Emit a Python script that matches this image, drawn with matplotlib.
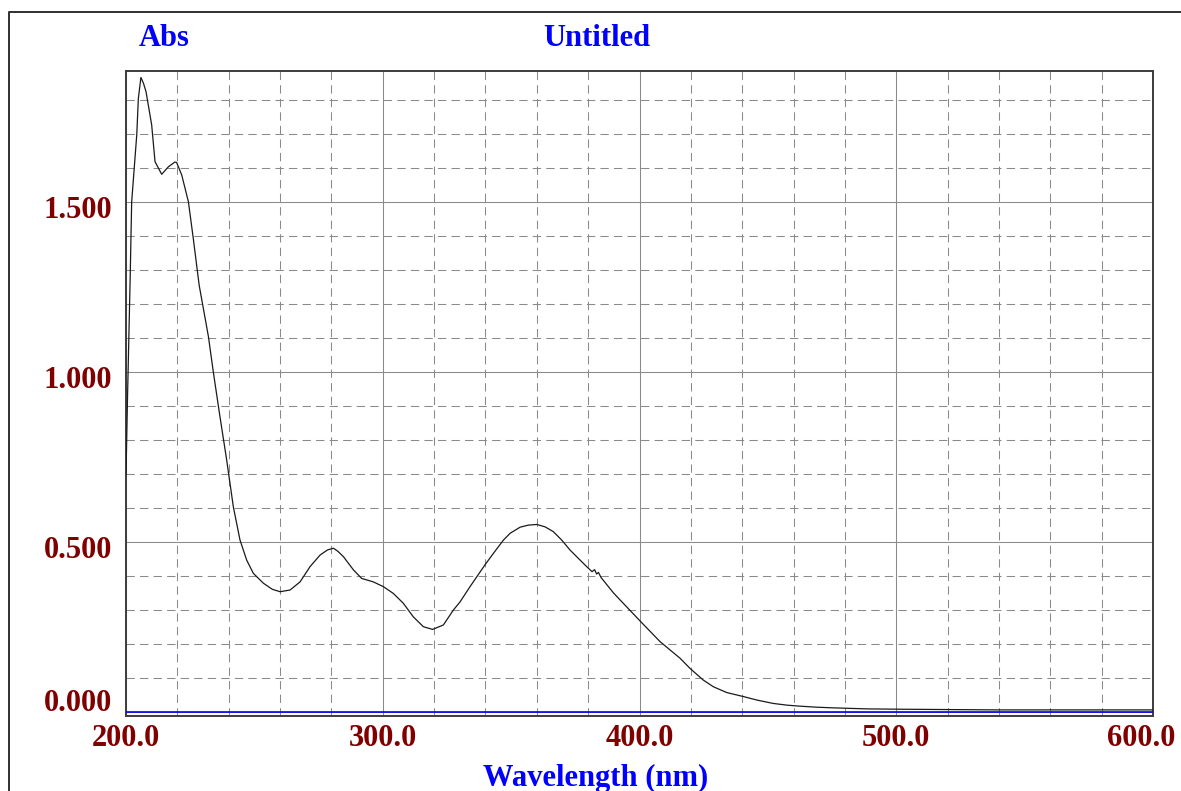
"""
UV-Vis absorbance spectrum, 200-600 nm.
"""

import matplotlib

matplotlib.use("Agg")

import matplotlib.pyplot as plt
import matplotlib.transforms as mtransforms
from matplotlib.lines import Line2D
from matplotlib.ticker import MultipleLocator

wavelength = [
    200.0, 200.6, 201.6, 202.2, 204.2, 204.8, 205.8, 206.8, 207.8, 210.0,
    211.3, 213.9, 216.5, 219.0, 219.7, 221.7, 224.3, 226.2, 228.5, 232.1,
    234.0, 236.6, 239.2, 241.8, 244.4, 247.0, 249.6, 253.5, 257.0, 260.0,
    263.9, 267.8, 271.7, 275.6, 278.5, 280.8, 282.5, 284.7, 288.6, 291.8,
    296.3, 300.2, 304.1, 308.0, 311.9, 315.8, 319.4, 323.6, 327.5, 330.1,
    334.0, 339.8, 343.5, 347.0, 349.6, 353.5, 356.7, 360.0, 363.2, 366.4,
    369.7, 372.9, 376.2, 379.4, 381.5, 382.5, 383.3, 384.0, 385.0, 389.8,
    392.4, 400.2, 408.0, 415.8, 419.7, 424.8, 428.8, 434.0, 440.6, 445.7,
    452.1, 457.4, 462.5, 469.0, 475.5, 488.5, 501.5, 520.0, 540.0, 560.0,
    580.0, 600.0,
]

absorbance = [
    0.700, 0.930, 1.270, 1.500, 1.700, 1.805, 1.867, 1.850, 1.825, 1.727,
    1.619, 1.582, 1.604, 1.618, 1.617, 1.580, 1.501, 1.393, 1.255, 1.104,
    1.000, 0.868, 0.741, 0.603, 0.505, 0.446, 0.407, 0.378, 0.360, 0.353,
    0.358, 0.382, 0.427, 0.461, 0.476, 0.481, 0.472, 0.456, 0.417, 0.392,
    0.382, 0.368, 0.348, 0.319, 0.279, 0.250, 0.242, 0.255, 0.299, 0.323,
    0.368, 0.432, 0.470, 0.505, 0.525, 0.543, 0.549, 0.551, 0.544, 0.530,
    0.505, 0.476, 0.451, 0.427, 0.412, 0.418, 0.405, 0.410, 0.395, 0.350,
    0.329, 0.267, 0.206, 0.157, 0.127, 0.093, 0.073, 0.056, 0.044, 0.034,
    0.024, 0.019, 0.016, 0.013, 0.011, 0.008, 0.007, 0.006, 0.005, 0.005,
    0.005, 0.005,
]

x_ticks = [200, 300, 400, 500, 600]
x_tick_labels = ["200.0", "300.0", "400.0", "500.0", "600.0"]
y_ticks = [0.0, 0.5, 1.0, 1.5]
y_tick_labels = ["0.000", "0.500", "1.000", "1.500"]

LABEL_RED = "#800000"
TITLE_BLUE = "#0000ff"
GRID_GREY = "#8a8a8a"
FONT = ["Liberation Serif", "DejaVu Serif"]


def px(n, fig):
    # shift of n pixels expressed through the dpi transform
    return n / fig.dpi


def main():

    fig = plt.figure(figsize=(11.81, 7.91), dpi=100)

    ax = fig.add_axes([0.1067, 0.0942, 0.8696, 0.8160])

    #
    # Spectrum and baseline
    #

    ax.axhline(0.0, color=TITLE_BLUE, linewidth=1.2, zorder=3)

    ax.plot(
        wavelength,
        absorbance,
        color="#1a1a1a",
        linewidth=0.9,
        zorder=4,
    )

    ax.set_xlim(200, 600)
    ax.set_ylim(-0.0144, 1.886)

    #
    # Grid: solid majors, dashed minors
    #

    ax.set_xticks(x_ticks)
    ax.set_yticks(y_ticks)
    ax.xaxis.set_minor_locator(MultipleLocator(20))
    ax.yaxis.set_minor_locator(MultipleLocator(0.1))

    ax.grid(which="major", color=GRID_GREY, linewidth=0.75, linestyle="-")
    ax.grid(
        which="minor",
        color=GRID_GREY,
        linewidth=0.75,
        linestyle=(0, (8, 5)),
    )
    ax.set_axisbelow(True)

    ax.tick_params(which="both", length=0)
    ax.tick_params(axis="x", pad=5.5)
    ax.tick_params(axis="y", pad=10)

    ax.set_xticklabels(
        x_tick_labels,
        fontsize=22,
        fontweight="bold",
        family=FONT,
        color=LABEL_RED,
    )
    ax.set_yticklabels(
        y_tick_labels,
        fontsize=22,
        fontweight="bold",
        family=FONT,
        color=LABEL_RED,
    )

    # y labels sit a little below their lines; the zero label is lifted
    for label, value in zip(ax.get_yticklabels(), y_ticks):
        dy = 12 if value == 0.0 else -5
        offset = mtransforms.ScaledTranslation(0, px(dy, fig), fig.dpi_scale_trans)
        label.set_transform(label.get_transform() + offset)

    last = ax.get_xticklabels()[-1]
    offset = mtransforms.ScaledTranslation(px(-12, fig), 0, fig.dpi_scale_trans)
    last.set_transform(last.get_transform() + offset)

    for spine in ax.spines.values():
        spine.set_color("#3c3c3c")
        spine.set_linewidth(1.4)

    #
    # Labels around the plot
    #

    text_style = dict(
        fontsize=22,
        fontweight="bold",
        family=FONT,
        color=TITLE_BLUE,
        ha="center",
        va="center",
    )

    fig.text(164 / 1181, 1 - 38 / 791, "Abs", **text_style)
    fig.text(597 / 1181, 1 - 38 / 791, "Untitled", **text_style)
    fig.text(596 / 1181, 1 - 778 / 791, "Wavelength (nm)", **text_style)

    #
    # Outer frame (left and top edges)
    #

    frame = Line2D(
        [9.5 / 1181, 9.5 / 1181, 1.0],
        [0.0, 1 - 11.5 / 791, 1 - 11.5 / 791],
        transform=fig.transFigure,
        color="#303030",
        linewidth=1.4,
    )
    fig.add_artist(frame)

    fig.savefig("out.png", dpi=100)

    plt.close(fig)


if __name__ == "__main__":

    main()
